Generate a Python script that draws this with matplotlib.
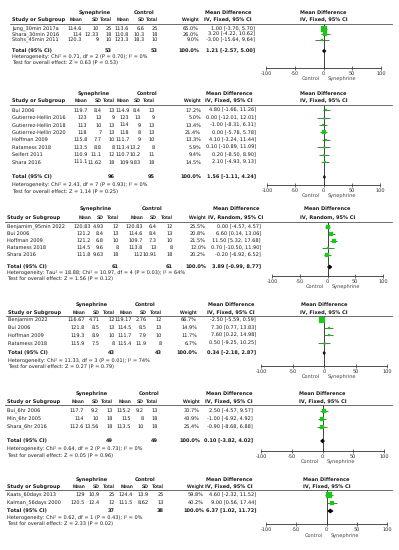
import matplotlib
matplotlib.use("Agg")
import matplotlib.pyplot as plt
from matplotlib.lines import Line2D

plt.rcParams['font.family'] = ['DejaVu Sans']
plt.rcParams['text.hinting'] = 'no_hinting'
plt.rcParams['text.hinting_factor'] = 1

W, H = 399, 550

# ---------------- DATA ----------------
# Panel 1
p1_study = ["Jung_30min 2017a", "Shara_30min 2016", "Stohs_45min 2011"]
p1_syn_mean = [114.6, 114, 120.3]
p1_syn_sd = [10, 12.33, 9]
p1_syn_n = [25, 18, 10]
p1_ctl_mean = [113.6, 110.8, 123.3]
p1_ctl_sd = [6.6, 10.3, 18.3]
p1_ctl_n = [25, 18, 10]
p1_weight = [65.0, 26.0, 9.0]
p1_md = [1.00, 3.20, -3.00]
p1_lo = [-3.70, -4.22, -15.64]
p1_hi = [5.70, 10.62, 9.64]
p1_total = [53, 53, 1.21, -2.57, 5.00]
p1_method = "IV, Fixed, 95% CI"
p1_het = "Heterogeneity: Chi² = 0.71, df = 2 (P = 0.70); I² = 0%"
p1_test = "Test for overall effect: Z = 0.63 (P = 0.53)"

# Panel 2
p2_study = ["Bui 2006", "Gutierrez-Hellin 2016", "Gutierrez-Hellin 2018", "Gutierrez-Hellin 2020",
            "Hoffman 2009", "Ratamess 2018", "Seifert 2011", "Shara 2016"]
p2_syn_mean = [119.7, 123, 113, 118, 115.8, 113.5, 110.9, 111.1]
p2_syn_sd = [8.4, 13, 10, 7, 7.7, 8.8, 11.1, 11.62]
p2_syn_n = [13, 9, 13, 13, 10, 8, 12, 18]
p2_ctl_mean = [114.9, 123, 114, 118, 111.7, 113.4, 110.7, 109]
p2_ctl_sd = [8.4, 13, 9, 8, 9, 13.2, 10.2, 9.83]
p2_ctl_n = [13, 9, 13, 13, 10, 8, 11, 18]
p2_weight = [17.2, 5.0, 13.4, 21.4, 13.3, 5.9, 9.4, 14.5]
p2_md = [4.80, 0.00, -1.00, 0.00, 4.10, 0.10, 0.20, 2.10]
p2_lo = [-1.66, -12.01, -8.31, -5.78, -3.24, -10.89, -8.50, -4.93]
p2_hi = [11.26, 12.01, 6.31, 5.78, 11.44, 11.09, 8.90, 9.13]
p2_total = [96, 95, 1.56, -1.11, 4.24]
p2_method = "IV, Fixed, 95% CI"
p2_het = "Heterogeneity: Chi² = 2.43, df = 7 (P = 0.93); I² = 0%"
p2_test = "Test for overall effect: Z = 1.14 (P = 0.25)"

# Panel 3
p3_study = ["Benjamim_95min 2022", "Bui 2006", "Hoffman 2009", "Ratamess 2018", "Shara 2016"]
p3_syn_mean = [120.83, 121.2, 121.2, 114.5, 111.8]
p3_syn_sd = [4.93, 8.4, 6.8, 9.6, 9.63]
p3_syn_n = [12, 13, 10, 8, 18]
p3_ctl_mean = [120.83, 114.6, 109.7, 113.8, 112]
p3_ctl_sd = [6.4, 8.4, 7.3, 13, 10.91]
p3_ctl_n = [12, 13, 10, 8, 18]
p3_weight = [25.5, 20.8, 21.5, 12.0, 20.2]
p3_md = [0.00, 6.60, 11.50, 0.70, -0.20]
p3_lo = [-4.57, 0.14, 5.32, -10.50, -6.92]
p3_hi = [4.57, 13.06, 17.68, 11.90, 6.52]
p3_total = [61, 61, 3.89, -0.99, 8.77]
p3_method = "IV, Random, 95% CI"
p3_het = "Heterogeneity: Tau² = 18.88; Chi² = 10.97, df = 4 (P = 0.03); I² = 64%"
p3_test = "Test for overall effect: Z = 1.56 (P = 0.12)"

# Panel 4
p4_study = ["Benjamim 2022", "Bui 2006", "Hoffman 2009", "Ratamess 2018"]
p4_syn_mean = [116.67, 121.8, 119.3, 115.9]
p4_syn_sd = [4.71, 8.5, 8.9, 7.5]
p4_syn_n = [12, 13, 10, 8]
p4_ctl_mean = [119.17, 114.5, 111.7, 115.4]
p4_ctl_sd = [2.76, 8.5, 7.9, 11.9]
p4_ctl_n = [12, 13, 10, 8]
p4_weight = [66.7, 14.9, 11.7, 6.7]
p4_md = [-2.50, 7.30, 7.60, 0.50]
p4_lo = [-5.59, 0.77, 0.22, -9.25]
p4_hi = [0.59, 13.83, 14.98, 10.25]
p4_total = [43, 43, 0.34, -2.18, 2.87]
p4_method = "IV, Fixed, 95% CI"
p4_het = "Heterogeneity: Chi² = 11.33, df = 3 (P = 0.01); I² = 74%"
p4_test = "Test for overall effect: Z = 0.27 (P = 0.79)"

# Panel 5
p5_study = ["Bui_6hr 2006", "Min_6hr 2005", "Shara_6hr 2016"]
p5_syn_mean = [117.7, 114, 112.6]
p5_syn_sd = [9.2, 10, 13.56]
p5_syn_n = [13, 18, 18]
p5_ctl_mean = [115.2, 115, 113.5]
p5_ctl_sd = [9.2, 8, 10]
p5_ctl_n = [13, 18, 18]
p5_weight = [30.7, 43.9, 25.4]
p5_md = [2.50, -1.00, -0.90]
p5_lo = [-4.57, -6.92, -8.68]
p5_hi = [9.57, 4.92, 6.88]
p5_total = [49, 49, 0.10, -3.82, 4.02]
p5_method = "IV, Fixed, 95% CI"
p5_het = "Heterogeneity: Chi² = 0.64, df = 2 (P = 0.73); I² = 0%"
p5_test = "Test for overall effect: Z = 0.05 (P = 0.96)"

# Panel 6
p6_study = ["Kaats_60days 2013", "Kalman_56days 2000"]
p6_syn_mean = [129, 120.5]
p6_syn_sd = [10.9, 12.4]
p6_syn_n = [25, 12]
p6_ctl_mean = [124.4, 111.5]
p6_ctl_sd = [13.9, 8.62]
p6_ctl_n = [25, 13]
p6_weight = [59.8, 40.2]
p6_md = [4.60, 9.00]
p6_lo = [-2.32, 0.56]
p6_hi = [11.52, 17.44]
p6_total = [37, 38, 6.37, 1.02, 11.72]
p6_method = "IV, Fixed, 95% CI"
p6_het = "Heterogeneity: Chi² = 0.62, df = 1 (P = 0.43); I² = 0%"
p6_test = "Test for overall effect: Z = 2.33 (P = 0.02)"

axis_ticks = [-100, -50, 0, 50, 100]
favours = ["Control", "Synephrine"]

# ---------------- LAYOUT (pixels) ----------------
layouts = [
    dict(fs=3.3, sx=12, cols=[82, 99, 112, 129, 145, 158, 199, 255], g=(95, 144), mdc=228,
         y_grp=13, y_col=19.5, y_line=24, row0=29, step=5.4, y_tot=51, y_het=57, y_test=62.5,
         y_axis=68, y_lab=79, fx=(266, 381)),
    dict(fs=3.45, sx=12, cols=[87.5, 101.5, 115, 129.5, 141, 154.5, 201, 256], g=(94, 147), mdc=229,
         y_grp=94, y_col=101, y_line=105, row0=110.3, step=7.4, y_tot=177, y_het=185, y_test=191.5,
         y_axis=185, y_lab=196, fx=(267, 380)),
    dict(fs=3.5, sx=7, cols=[91, 104, 119, 143, 157, 173, 206, 261], g=(96, 152), mdc=236,
         y_grp=209, y_col=218, y_line=222, row0=227, step=6.9, y_tot=267, y_het=273, y_test=279,
         y_axis=276, y_lab=287, fx=(272, 383)),
    dict(fs=3.5, sx=8, cols=[85, 100, 115, 132, 147, 162, 197, 256], g=(92, 145), mdc=231,
         y_grp=305, y_col=312.5, y_line=315.5, row0=320, step=7.7, y_tot=353, y_het=361, y_test=367,
         y_axis=366, y_lab=377, fx=(261, 387)),
    dict(fs=3.5, sx=7, cols=[84, 99, 113, 131, 144, 158, 200, 253], g=(92, 149), mdc=229,
         y_grp=394, y_col=402, y_line=405, row0=411, step=8, y_tot=441, y_het=449, y_test=455.5,
         y_axis=451, y_lab=462, fx=(261, 384)),
    dict(fs=3.55, sx=7, cols=[85, 100, 115, 133, 149, 164, 204, 256], g=(92, 145), mdc=229,
         y_grp=480, y_col=487, y_line=490, row0=495, step=7.7, y_tot=511, y_het=517.5, y_test=523.5,
         y_axis=524, y_lab=536, fx=(266, 387)),
]

panels = [
    (p1_study, p1_syn_mean, p1_syn_sd, p1_syn_n, p1_ctl_mean, p1_ctl_sd, p1_ctl_n,
     p1_weight, p1_md, p1_lo, p1_hi, p1_total, p1_method, p1_het, p1_test),
    (p2_study, p2_syn_mean, p2_syn_sd, p2_syn_n, p2_ctl_mean, p2_ctl_sd, p2_ctl_n,
     p2_weight, p2_md, p2_lo, p2_hi, p2_total, p2_method, p2_het, p2_test),
    (p3_study, p3_syn_mean, p3_syn_sd, p3_syn_n, p3_ctl_mean, p3_ctl_sd, p3_ctl_n,
     p3_weight, p3_md, p3_lo, p3_hi, p3_total, p3_method, p3_het, p3_test),
    (p4_study, p4_syn_mean, p4_syn_sd, p4_syn_n, p4_ctl_mean, p4_ctl_sd, p4_ctl_n,
     p4_weight, p4_md, p4_lo, p4_hi, p4_total, p4_method, p4_het, p4_test),
    (p5_study, p5_syn_mean, p5_syn_sd, p5_syn_n, p5_ctl_mean, p5_ctl_sd, p5_ctl_n,
     p5_weight, p5_md, p5_lo, p5_hi, p5_total, p5_method, p5_het, p5_test),
    (p6_study, p6_syn_mean, p6_syn_sd, p6_syn_n, p6_ctl_mean, p6_ctl_sd, p6_ctl_n,
     p6_weight, p6_md, p6_lo, p6_hi, p6_total, p6_method, p6_het, p6_test),
]

TXT = '#1a1a1a'
GREEN = '#19c819'
CI = '#2f6b2f'

fig = plt.figure(figsize=(W / 100, H / 100), dpi=100)
fig.patch.set_facecolor('white')


def T(x, y, s, fs, ha='left', bold=False, color=TXT, family=None):
    kw = {}
    if family:
        kw['family'] = family
    fig.text(x / W, 1 - y / H, s, fontsize=fs, ha=ha, va='center',
             fontweight='bold' if bold else 'normal', color=color, **kw)


def g(v):
    return f"{v:g}"


def ci_text(m, lo, hi):
    return f"{m:.2f} [{lo:.2f}, {hi:.2f}]"


for data, L in zip(panels, layouts):
    (study, m1, s1, n1, m2, s2, n2, wt, md, lo, hi, tot, method, het, test) = data
    fs = L['fs']
    c = L['cols']
    fx0, fx1 = L['fx']
    fxc = (fx0 + fx1) / 2

    # headers
    T(L['g'][0], L['y_grp'], 'Synephrine', fs, 'center', True)
    T(L['g'][1], L['y_grp'], 'Control', fs, 'center', True)
    T(L['mdc'], L['y_grp'], 'Mean Difference', fs, 'center', True)
    T(L['mdc'], L['y_col'], method, fs, 'center', True)
    T(fxc, L['y_grp'], 'Mean Difference', fs, 'center', True)
    T(fxc, L['y_col'], method, fs, 'center', True)
    T(L['sx'], L['y_col'], 'Study or Subgroup', fs, 'left', True)
    for x, s in zip(c[:7], ['Mean', 'SD', 'Total', 'Mean', 'SD', 'Total', 'Weight']):
        T(x, L['y_col'], s, fs * 1.05, 'right', True, family=['Liberation Sans', 'DejaVu Sans'])
    fig.add_artist(Line2D([(L['sx'] - 2) / W, 392 / W], [1 - L['y_line'] / H] * 2,
                          color='#555555', lw=0.6))

    # rows
    ys = [L['row0'] + i * L['step'] for i in range(len(study))]
    for i, y in enumerate(ys):
        T(L['sx'], y, study[i], fs)
        vals = [g(m1[i]), g(s1[i]), g(n1[i]), g(m2[i]), g(s2[i]), g(n2[i]),
                f"{wt[i]:.1f}%", ci_text(md[i], lo[i], hi[i])]
        for x, s in zip(c, vals):
            T(x, y, s, fs, 'right')

    # total
    yt = L['y_tot']
    T(L['sx'], yt, 'Total (95% CI)', fs, 'left', True)
    T(c[2], yt, g(tot[0]), fs, 'right', True)
    T(c[5], yt, g(tot[1]), fs, 'right', True)
    T(c[6], yt, '100.0%', fs, 'right', True)
    T(c[7], yt, ci_text(tot[2], tot[3], tot[4]), fs, 'right', True)
    T(L['sx'], L['y_het'], het, fs)
    T(L['sx'], L['y_test'], test, fs)

    # forest axes (y in pixel units)
    ax = fig.add_axes([fx0 / W, 1 - L['y_axis'] / H, (fx1 - fx0) / W, (L['y_axis'] - L['y_line']) / H])
    ax.set_xlim(axis_ticks[0], axis_ticks[-1])
    ax.set_ylim(L['y_axis'], L['y_line'])
    ax.patch.set_alpha(0)
    for sp in ['top', 'left', 'right']:
        ax.spines[sp].set_visible(False)
    ax.spines['bottom'].set_linewidth(0.6)
    ax.spines['bottom'].set_color('#333333')
    ax.set_yticks([])
    ax.set_xticks(axis_ticks)
    ax.set_xticklabels([g(t) for t in axis_ticks])
    ax.tick_params(axis='x', direction='inout', length=3, width=0.5, pad=0.6,
                   labelsize=fs, colors='#333333')
    ax.axvline(0, color='#222222', lw=0.6)

    for i, y in enumerate(ys):
        ax.hlines(y, lo[i], hi[i], color=CI, lw=0.6)
        side = max(1.6, 0.7 * wt[i] ** 0.5)
        ax.plot(md[i], y, marker='s', ms=side / 1.389, color=GREEN, mec=GREEN, mew=0.2)
    hh = 2.4
    ax.fill([tot[3], tot[2], tot[4], tot[2]], [yt, yt - hh, yt, yt + hh], color='black', lw=0)

    T(fxc - 4, L['y_lab'], favours[0], fs, 'right', False, '#444444')
    T(fxc + 4, L['y_lab'], favours[1], fs, 'left', False, '#444444')

fig.savefig('out.png', dpi=100, facecolor='white')
